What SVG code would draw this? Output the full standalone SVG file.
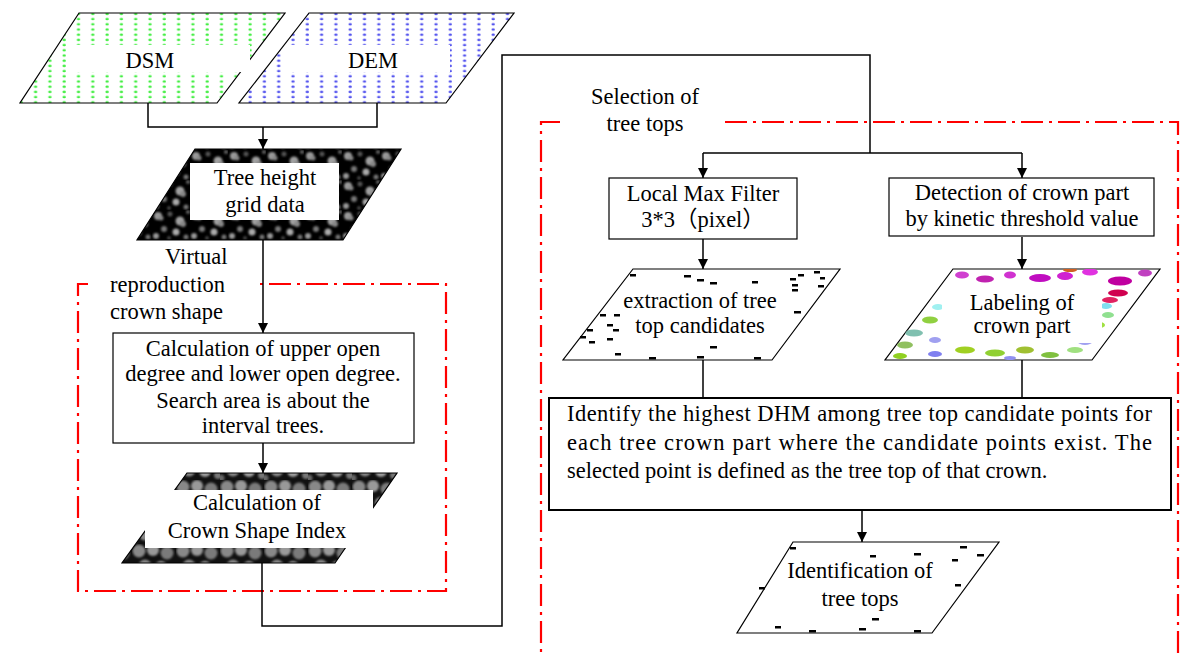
<svg xmlns="http://www.w3.org/2000/svg" width="1183" height="655" viewBox="0 0 1183 655">
<style>
text{font-family:"Liberation Serif","Noto Sans CJK JP",serif;font-size:22.5px;fill:#000}
.c{text-anchor:middle}
.ln{fill:none;stroke:#000;stroke-width:1.5}
.box{fill:#fff;stroke:#000;stroke-width:1.2}
.pg{stroke:#000;stroke-width:1.2}
.red{fill:none;stroke:#f00;stroke-width:2.2;stroke-dasharray:22 6 3 6}
.wh{fill:#fff}
.dot{fill:#000}
</style>
<defs>
<marker id="ah" viewBox="0 0 10 10" refX="10" refY="5" markerWidth="10" markerHeight="11" markerUnits="userSpaceOnUse" orient="auto"><path d="M0,0 L10,5 L0,10 z" fill="#000"/></marker>
<filter id="soft" x="-10%" y="-10%" width="120%" height="120%"><feGaussianBlur stdDeviation="0.9"/></filter>
<filter id="soft2" x="-5%" y="-5%" width="110%" height="110%"><feGaussianBlur stdDeviation="0.5"/></filter>
<pattern id="pG" width="14.3" height="5.2" patternUnits="userSpaceOnUse" x="3" y="1"><ellipse cx="4" cy="2.5" rx="1.7" ry="1.2" fill="#44ee44"/></pattern>
<pattern id="pB" width="14.3" height="5.2" patternUnits="userSpaceOnUse" x="3" y="1"><ellipse cx="4" cy="2.5" rx="1.7" ry="1.2" fill="#5555ee"/></pattern>
<pattern id="pT" width="38" height="30" patternUnits="userSpaceOnUse">
<rect width="38" height="30" fill="#000"/>
<g filter="url(#soft)">
<circle cx="6" cy="6" r="4" fill="#999"/><circle cx="9" cy="8" r="2.5" fill="#888"/><circle cx="18" cy="4" r="2.5" fill="#555"/><circle cx="28" cy="11" r="4.5" fill="#a0a0a0"/>
<circle cx="31" cy="14" r="3" fill="#888"/><circle cx="12" cy="19" r="3" fill="#777"/><circle cx="24" cy="22" r="3.5" fill="#aaa"/><circle cx="34" cy="27" r="2.5" fill="#777"/>
<circle cx="4" cy="26" r="3" fill="#999"/><circle cx="36" cy="2" r="2" fill="#666"/><circle cx="17" cy="28" r="1.8" fill="#555"/>
</g>
</pattern>
<pattern id="pC" width="44" height="32" patternUnits="userSpaceOnUse">
<rect width="44" height="32" fill="#111"/>
<g filter="url(#soft)">
<circle cx="7" cy="7" r="6.5" fill="#888"/><circle cx="21" cy="6" r="6" fill="#999"/><circle cx="35" cy="9" r="6.5" fill="#7a7a7a"/>
<circle cx="13" cy="22" r="6.5" fill="#8a8a8a"/><circle cx="29" cy="23" r="6" fill="#a0a0a0"/><circle cx="42" cy="27" r="4" fill="#777"/>
<circle cx="1" cy="30" r="3.5" fill="#666"/>
</g>
</pattern>
<clipPath id="clipLab"><polygon points="953,269 1160,269 1092,360 885,360"/></clipPath>
</defs>

<g id="frames">
<path class="red" d="M88,284 H78 V591 H446 V284 H256"/>
<path class="red" d="M560,122 H541 V660"/>
<path class="red" d="M725,122 H1178 V660"/>
<text x="165" y="264">Virtual</text>
<text x="110" y="292">reproduction</text>
<text x="110" y="319">crown shape</text>
<text class="c" x="645" y="104">Selection of</text>
<text class="c" x="645" y="131">tree tops</text>
</g>

<g id="connectors">
<path class="ln" d="M148,103 V127 H377 V103"/>
<path class="ln" d="M263,127 V149" marker-end="url(#ah)"/>
<path class="ln" d="M263,240 V333" marker-end="url(#ah)"/>
<path class="ln" d="M263,443 V473" marker-end="url(#ah)"/>
<path class="ln" d="M262,563 V626 H502 V55 H870 V153"/>
<path class="ln" d="M703,153 H1022"/>
<path class="ln" d="M703,153 V178" marker-end="url(#ah)"/>
<path class="ln" d="M1022,153 V178" marker-end="url(#ah)"/>
<path class="ln" d="M703,239 V269" marker-end="url(#ah)"/>
<path class="ln" d="M1022,237 V269" marker-end="url(#ah)"/>
<path class="ln" d="M703,360 V398"/>
<path class="ln" d="M1022,360 V398"/>
<path class="ln" d="M862,510 V542" marker-end="url(#ah)"/>
</g>

<g id="dsm">
<polygon class="pg" points="79,13 285,13 217,103 20,103" fill="url(#pG)"/>
<rect class="wh" x="75" y="45" width="175" height="27"/>
<text class="c" x="150" y="68">DSM</text>
</g>
<g id="dem">
<polygon class="pg" points="309,13 514,13 446,103 239,103" fill="url(#pB)"/>
<rect class="wh" x="287" y="45" width="163" height="27"/>
<text class="c" x="373" y="68">DEM</text>
</g>

<g id="tree-height">
<polygon class="pg" points="195,149 401,149 343,240 137,240" fill="url(#pT)"/>
<rect class="wh" x="190" y="163" width="149" height="57"/>
<text class="c" x="265" y="185">Tree height</text>
<text class="c" x="265" y="212">grid data</text>
</g>

<g id="open-degree">
<rect class="box" x="113" y="333" width="301" height="110"/>
<text class="c" x="263" y="356">Calculation of upper open</text>
<text class="c" x="263" y="381">degree and lower open degree.</text>
<text class="c" x="263" y="408">Search area is about the</text>
<text class="c" x="263" y="433">interval trees.</text>
</g>

<g id="crown-index">
<polygon class="pg" points="187,473 397,473 335,563 122,563" fill="url(#pC)"/>
<rect class="wh" x="145" y="490" width="228" height="58"/>
<text class="c" x="257" y="510">Calculation of</text>
<text class="c" x="257" y="538">Crown Shape Index</text>
</g>

<g id="local-max">
<rect class="box" x="609" y="178" width="188" height="61"/>
<text class="c" x="703" y="201">Local Max Filter</text>
<text class="c" x="703" y="227">3*3（pixel）</text>
</g>

<g id="detection">
<rect class="box" x="889" y="178" width="265" height="58"/>
<text class="c" x="1022" y="200">Detection of crown part</text>
<text class="c" x="1022" y="226">by kinetic threshold value</text>
</g>

<g id="extraction">
<polygon class="pg" points="633,269 840,269 772,360 563,360" fill="#fff"/>
<g class="dot">
<rect x="630" y="274" width="6" height="2.5"/><rect x="684" y="275" width="7" height="2.5"/><rect x="697" y="279" width="7" height="2.5"/>
<rect x="710" y="282" width="7" height="2.5"/><rect x="752" y="281" width="6" height="2.5"/><rect x="790" y="278" width="6" height="2.5"/>
<rect x="792" y="284" width="6" height="2.5"/><rect x="792" y="289" width="6" height="2.5"/><rect x="798" y="274" width="6" height="2.5"/>
<rect x="814" y="271" width="6" height="2.5"/><rect x="820" y="277" width="5" height="2.5"/><rect x="818" y="285" width="6" height="2.5"/>
<rect x="794" y="311" width="7" height="2.5"/><rect x="600" y="314" width="6" height="2.5"/><rect x="614" y="314" width="6" height="2.5"/>
<rect x="607" y="324" width="6" height="2.5"/><rect x="613" y="329" width="6" height="2.5"/><rect x="587" y="329" width="6" height="2.5"/>
<rect x="580" y="336" width="6" height="2.5"/><rect x="607" y="338" width="6" height="2.5"/><rect x="589" y="341" width="6" height="2.5"/>
<rect x="710" y="346" width="7" height="2.5"/><rect x="615" y="353" width="6" height="2.5"/><rect x="649" y="357" width="7" height="2.5"/>
<rect x="697" y="356" width="7" height="2.5"/><rect x="754" y="357" width="7" height="2.5"/>
</g>
<text class="c" x="700" y="308">extraction of tree</text>
<text class="c" x="700" y="333">top candidates</text>
</g>

<g id="labeling">
<polygon class="pg" points="953,269 1160,269 1092,360 885,360" fill="#fff"/>
<g clip-path="url(#clipLab)" filter="url(#soft2)">
<ellipse cx="962" cy="275" rx="7" ry="3.5" fill="#d040d0"/><ellipse cx="985" cy="279" rx="9" ry="3.5" fill="#c020b0"/>
<ellipse cx="1010" cy="275" rx="6" ry="3.5" fill="#d030d0"/><ellipse cx="1040" cy="278" rx="11" ry="4" fill="#c010c0"/>
<ellipse cx="1065" cy="276" rx="8" ry="4" fill="#d020d0"/><ellipse cx="1090" cy="272" rx="8" ry="3.5" fill="#e030e0"/>
<ellipse cx="1120" cy="281" rx="12" ry="4.5" fill="#c000a0"/><ellipse cx="1145" cy="273" rx="7" ry="3.5" fill="#c040c0"/>
<ellipse cx="1070" cy="270" rx="7" ry="2" fill="#d06020"/><ellipse cx="1118" cy="293" rx="10" ry="3.5" fill="#d00050"/>
<ellipse cx="1110" cy="300" rx="8" ry="3" fill="#e02060"/><ellipse cx="1106" cy="306" rx="6" ry="3" fill="#80e0f0"/>
<ellipse cx="1108" cy="315" rx="6" ry="3" fill="#90e090"/><ellipse cx="1100" cy="325" rx="5" ry="3" fill="#a0e040"/>
<ellipse cx="938" cy="307" rx="6" ry="3" fill="#a0f0f0"/><ellipse cx="930" cy="320" rx="8" ry="3.5" fill="#90d040"/>
<ellipse cx="914" cy="333" rx="9" ry="3.5" fill="#80c0b0"/><ellipse cx="905" cy="345" rx="8" ry="3.5" fill="#90c060"/>
<ellipse cx="935" cy="340" rx="6" ry="3" fill="#a0a0f0"/><ellipse cx="900" cy="356" rx="7" ry="3" fill="#90d020"/>
<ellipse cx="935" cy="354" rx="7" ry="3" fill="#8080f0"/><ellipse cx="965" cy="350" rx="10" ry="3.5" fill="#a0d020"/>
<ellipse cx="995" cy="353" rx="10" ry="3.5" fill="#90d030"/><ellipse cx="1025" cy="350" rx="9" ry="3.5" fill="#a0c030"/>
<ellipse cx="1050" cy="355" rx="9" ry="3" fill="#80c040"/><ellipse cx="1075" cy="350" rx="8" ry="3" fill="#a0e080"/>
<ellipse cx="1085" cy="342" rx="7" ry="3" fill="#a0a0f0"/><ellipse cx="1010" cy="358" rx="6" ry="2" fill="#9090f0"/>
</g>
<rect class="wh" x="942" y="287" width="160" height="56"/>
<text class="c" x="1022" y="310">Labeling of</text>
<text class="c" x="1022" y="333">crown part</text>
</g>

<g id="identify">
<rect x="549" y="398" width="622" height="112" fill="#fff" stroke="#000" stroke-width="2"/>
<text x="567" y="421" textLength="585" lengthAdjust="spacing">Identify the highest DHM among tree top candidate points for</text>
<text x="567" y="450" textLength="585" lengthAdjust="spacing">each tree crown part where the candidate points exist. The</text>
<text x="567" y="478">selected point is defined as the tree top of that crown.</text>
</g>

<g id="tree-tops">
<polygon class="pg" points="793,542 999,542 932,633 737,633" fill="#fff"/>
<g class="dot">
<rect x="790" y="547" width="6" height="2.5"/><rect x="870" y="555" width="6" height="2.5"/><rect x="914" y="553" width="7" height="2.5"/>
<rect x="960" y="546" width="7" height="2.5"/><rect x="977" y="554" width="7" height="2.5"/><rect x="952" y="559" width="6" height="2.5"/>
<rect x="955" y="584" width="6" height="2.5"/><rect x="759" y="587" width="6" height="2.5"/><rect x="872" y="618" width="7" height="2.5"/>
<rect x="775" y="626" width="6" height="2.5"/><rect x="809" y="630" width="7" height="2.5"/><rect x="859" y="628" width="7" height="2.5"/>
<rect x="914" y="630" width="7" height="2.5"/>
</g>
<text class="c" x="860" y="578">Identification of</text>
<text class="c" x="860" y="606">tree tops</text>
</g>
</svg>
